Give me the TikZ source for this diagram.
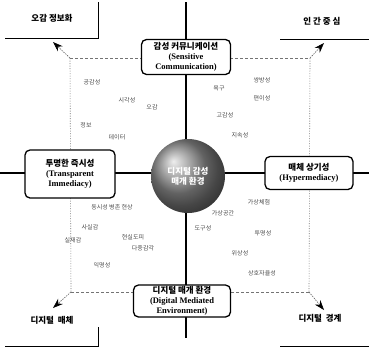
\documentclass[tikz,border=0pt]{standalone}
\usepackage{fontspec}
\setmainfont{Liberation Serif}
\newfontfamily\kr{Noto Sans CJK KR}
\usetikzlibrary{arrows.meta}

\begin{document}
\begin{tikzpicture}[x=1pt,y=-1pt,
  axis/.style={line width=1.4pt,black},
  edge/.style={draw=black!55,line width=0.6pt,dash pattern=on 3pt off 2pt},
  sideedge/.style={draw=black!55,line width=0.6pt,dash pattern=on 1pt off 1.5pt},
  pointer/.style={draw=black!60,line width=0.6pt,dash pattern=on 1.5pt off 1pt,
    -{Stealth[length=10pt,width=7pt,fill=black,color=black]}},
  bracket/.style={line width=1pt,black},
  conceptbox/.style={draw,rounded corners=5pt,line width=1.3pt,fill=white,
    align=center,inner sep=1pt,font=\bfseries\fontsize{8.5}{9.8}\selectfont},
  cornerlabel/.style={font=\kr\bfseries\fontsize{8.5}{10}\selectfont},
  word/.style={font=\kr\fontsize{6}{7}\selectfont,text=black!70},
  hg/.style={font=\kr\bfseries\fontsize{8.5}{10}\selectfont}
]
\useasboundingbox (0,0) rectangle (369,351);

% main axes
\coordinate (axN) at (186,2);
\coordinate (axS) at (186,338);
\coordinate (axW) at (0,173);
\coordinate (axE) at (369,173);
\draw[axis] (axN) -- (axS);
\draw[axis] (axW) -- (axE);

% dashed frame
\coordinate (fTL) at (70,58);
\coordinate (fTR) at (310,58);
\coordinate (fBL) at (71,292);
\coordinate (fBR) at (309,292);
\draw[edge] (fTL) -- (fTR);
\draw[edge] (fBL) -- (fBR);
\draw[sideedge] (fTL) -- (fBL);
\draw[sideedge] (fTR) -- (fBR);

% diagonal pointers to the corner themes
\coordinate (pTL) at (53,42);
\coordinate (pTR) at (324,43);
\coordinate (pBL) at (53,308);
\coordinate (pBR) at (324,310);
\draw[pointer] (fTL) -- (pTL);
\draw[pointer] (fTR) -- (pTR);
\draw[pointer] (fBL) -- (pBL);
\draw[pointer] (fBR) -- (pBR);

% corner themes with their rules
\node[cornerlabel] (cTL) at (52,18) {오감 정보화};
\node[cornerlabel] (cTR) at (322,21) {인\ 간\ 중\ 심};
\node[cornerlabel] (cBL) at (52,320) {디지털\ \ 매체};
\node[cornerlabel] (cBR) at (320,318) {디지털\ \ 경계};
\coordinate (bTLa) at (5,38);
\coordinate (bTLb) at (98,38);
\coordinate (bTLc) at (98,2);
\draw[bracket] (bTLa) -- (bTLb) -- (bTLc);
\coordinate (bTRa) at (280,39);
\coordinate (bTRb) at (369,39);
\draw[bracket] (bTRa) -- (bTRb);
\coordinate (bBLa) at (5,346);
\coordinate (bBLb) at (98,346);
\coordinate (bBLc) at (98,327);
\draw[bracket] (bBLa) -- (bBLb) -- (bBLc);
\coordinate (bBRa) at (280,346);
\coordinate (bBRb) at (369,346);
\draw[bracket] (bBRa) -- (bBRb);

% four concept boxes
\node[conceptbox,minimum width=89pt,minimum height=35pt] (top) at (186,57)
  {{\kr 감성 커뮤니케이션}\\(Sensitive\\Communication)};
\node[conceptbox,minimum width=90pt,minimum height=48pt] (left) at (70,174)
  {{\kr 투명한 즉시성}\\(Transparent\\Immediacy)};
\node[conceptbox,minimum width=88pt,minimum height=33pt] (right) at (309,173)
  {{\kr 매체 상기성}\\(Hypermediacy)};
\node[conceptbox,minimum width=97pt,minimum height=32pt] (bottom) at (182,301)
  {{\kr 디지털 매개 환경}\\(Digital Mediated\\Environment)};

% central sphere
\shade[ball color=black!45] (188,176) circle (37pt);
\node[circle,minimum size=74pt,inner sep=0pt] (core) at (188,176) {};
\node[hg,text=white,align=center] (coretext) at (core.center) {디지털 감성\\매개 환경};

% scattered keywords
\node[word] (w1) at (92,82) {공감성};
\node[word] (w2) at (127,100) {시각성};
\node[word] (w3) at (152,107) {오감};
\node[word] (w4) at (86,125) {정보};
\node[word] (w5) at (117,137) {데이터};

\node[word] (w6) at (262,80) {쌍방성};
\node[word] (w7) at (219,88) {욕구};
\node[word] (w8) at (262,98) {편이성};
\node[word] (w9) at (225,115) {고감성};
\node[word] (w10) at (240,135) {지속성};

\node[word] (w11) at (112,207) {동시성 병존 현상};
\node[word] (w12) at (90,227) {사실감};
\node[word] (w13) at (133,237) {현실도피};
\node[word] (w14) at (73,240) {실재감};
\node[word] (w15) at (143,248) {다중감각};
\node[word] (w16) at (102,265) {익명성};

\node[word] (w17) at (259,202) {가상체험};
\node[word] (w18) at (223,213) {가상공간};
\node[word] (w19) at (203,228) {도구성};
\node[word] (w20) at (263,233) {투명성};
\node[word] (w21) at (240,253) {위상성};
\node[word] (w22) at (262,273) {상호자율성};
\end{tikzpicture}
\end{document}
